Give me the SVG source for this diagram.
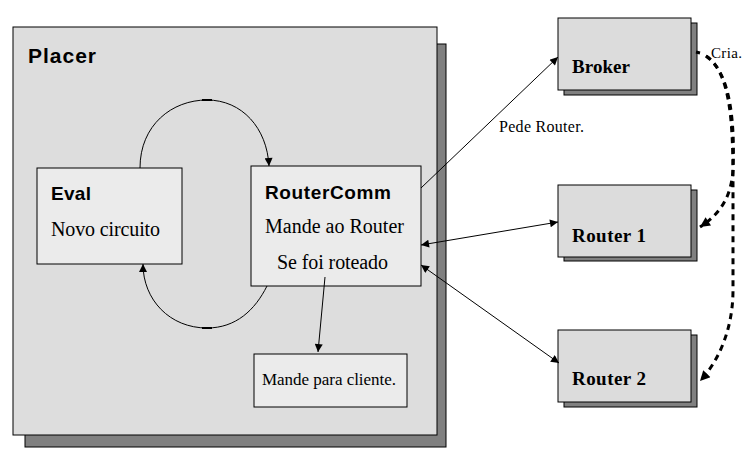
<svg xmlns="http://www.w3.org/2000/svg" width="753" height="460" viewBox="0 0 753 460">
<defs>
<style>
.shadow{fill:#808080;stroke:#000;stroke-width:1}
.outer{fill:#dddddd;stroke:#000;stroke-width:1}
.inner{fill:#ebebeb;stroke:#000;stroke-width:1}
.ext{fill:#dcdcdc;stroke:#000;stroke-width:1}
.sansb{font-family:"Liberation Sans",Arial,sans-serif;font-weight:bold;fill:#000}
.serif{font-family:"Liberation Serif","Times New Roman",serif;fill:#000}
.serifb{font-family:"Liberation Serif","Times New Roman",serif;font-weight:bold;fill:#000}
.conn{fill:none;stroke:#000;stroke-width:1}
.dash{fill:none;stroke:#000;stroke-width:3;stroke-dasharray:6 5}
</style>
<marker id="ah" viewBox="0 0 10 10" refX="10" refY="5" markerWidth="10" markerHeight="8" markerUnits="userSpaceOnUse" orient="auto-start-reverse">
<path d="M0,0 L10,5 L0,10 z" fill="#000"/>
</marker>
<marker id="ahb" viewBox="0 0 10 10" refX="10" refY="5" markerWidth="11" markerHeight="10" markerUnits="userSpaceOnUse" orient="auto">
<path d="M0,0 L10,5 L0,10 z" fill="#000"/>
</marker>
</defs>
<rect x="0" y="0" width="753" height="460" fill="#fff"/>
<g id="placer">
<rect class="shadow" x="25" y="44" width="421" height="403"/>
<rect class="outer" x="13" y="27" width="424" height="408"/>
<text class="sansb" x="28" y="63" font-size="21" textLength="68" lengthAdjust="spacing">Placer</text>
</g>
<g id="eval">
<rect class="inner" x="37" y="168" width="145" height="96"/>
<text class="sansb" x="51" y="200" font-size="19" textLength="40" lengthAdjust="spacing">Eval</text>
<text class="serif" x="51" y="236" font-size="20" textLength="109" lengthAdjust="spacing">Novo circuito</text>
</g>
<g id="routercomm">
<rect class="inner" x="251" y="166" width="170" height="120"/>
<text class="sansb" x="265" y="199" font-size="19" textLength="126" lengthAdjust="spacing">RouterComm</text>
<text class="serif" x="265" y="233" font-size="20" textLength="139" lengthAdjust="spacing">Mande ao Router</text>
<text class="serif" x="277" y="269" font-size="20" textLength="111" lengthAdjust="spacing">Se foi roteado</text>
</g>
<g id="cliente">
<rect class="inner" x="254" y="354" width="153" height="53"/>
<text class="serif" x="262" y="385" font-size="17" textLength="134" lengthAdjust="spacing">Mande para cliente.</text>
</g>
<g id="broker">
<rect class="shadow" x="564" y="23" width="133" height="72"/>
<rect class="ext" x="558" y="18" width="133" height="72"/>
<text class="serifb" x="572" y="73" font-size="19" textLength="58" lengthAdjust="spacing">Broker</text>
</g>
<g id="router1">
<rect class="shadow" x="564" y="190" width="133" height="71"/>
<rect class="ext" x="558" y="185" width="133" height="72"/>
<text class="serifb" x="572" y="242" font-size="19" textLength="74" lengthAdjust="spacing">Router 1</text>
</g>
<g id="router2">
<rect class="shadow" x="564" y="335" width="133" height="72"/>
<rect class="ext" x="558" y="330" width="133" height="72"/>
<text class="serifb" x="572" y="385" font-size="19" textLength="74" lengthAdjust="spacing">Router 2</text>
</g>
<g id="connectors">
<path class="conn" d="M140,168 C140,125 172,100 207,100 C242,100 267,128 269,166" marker-end="url(#ah)"/>
<path class="conn" d="M267,286 C255,310 236,328 207,328 C170,328 143,300 143,264" marker-end="url(#ah)"/>
<line x1="202" y1="100" x2="212" y2="100" stroke="#000" stroke-width="2"/>
<line x1="202" y1="328" x2="212" y2="328" stroke="#000" stroke-width="2"/>
<line class="conn" x1="325" y1="277" x2="318" y2="352" marker-end="url(#ah)"/>
<line class="conn" x1="421" y1="188" x2="558" y2="57" marker-end="url(#ah)"/>
<line class="conn" x1="421" y1="245" x2="558" y2="222" marker-start="url(#ah)" marker-end="url(#ah)"/>
<line class="conn" x1="421" y1="265" x2="559" y2="363" marker-start="url(#ah)" marker-end="url(#ah)"/>
<text class="serif" x="499" y="132" font-size="16" textLength="85" lengthAdjust="spacing">Pede Router.</text>
<line x1="696" y1="52" x2="700" y2="53" stroke="#000" stroke-width="3"/>
<path class="dash" d="M706,56 C730,72 735,120 733,170 C731,200 718,215 700,227" marker-end="url(#ahb)"/>
<path class="dash" d="M706,56 C730,72 733,120 733,180 L733,290 C733,330 718,362 700,381" marker-end="url(#ahb)"/>
<text class="serif" x="711" y="58" font-size="15" textLength="31" lengthAdjust="spacing">Cria.</text>
</g>
</svg>
